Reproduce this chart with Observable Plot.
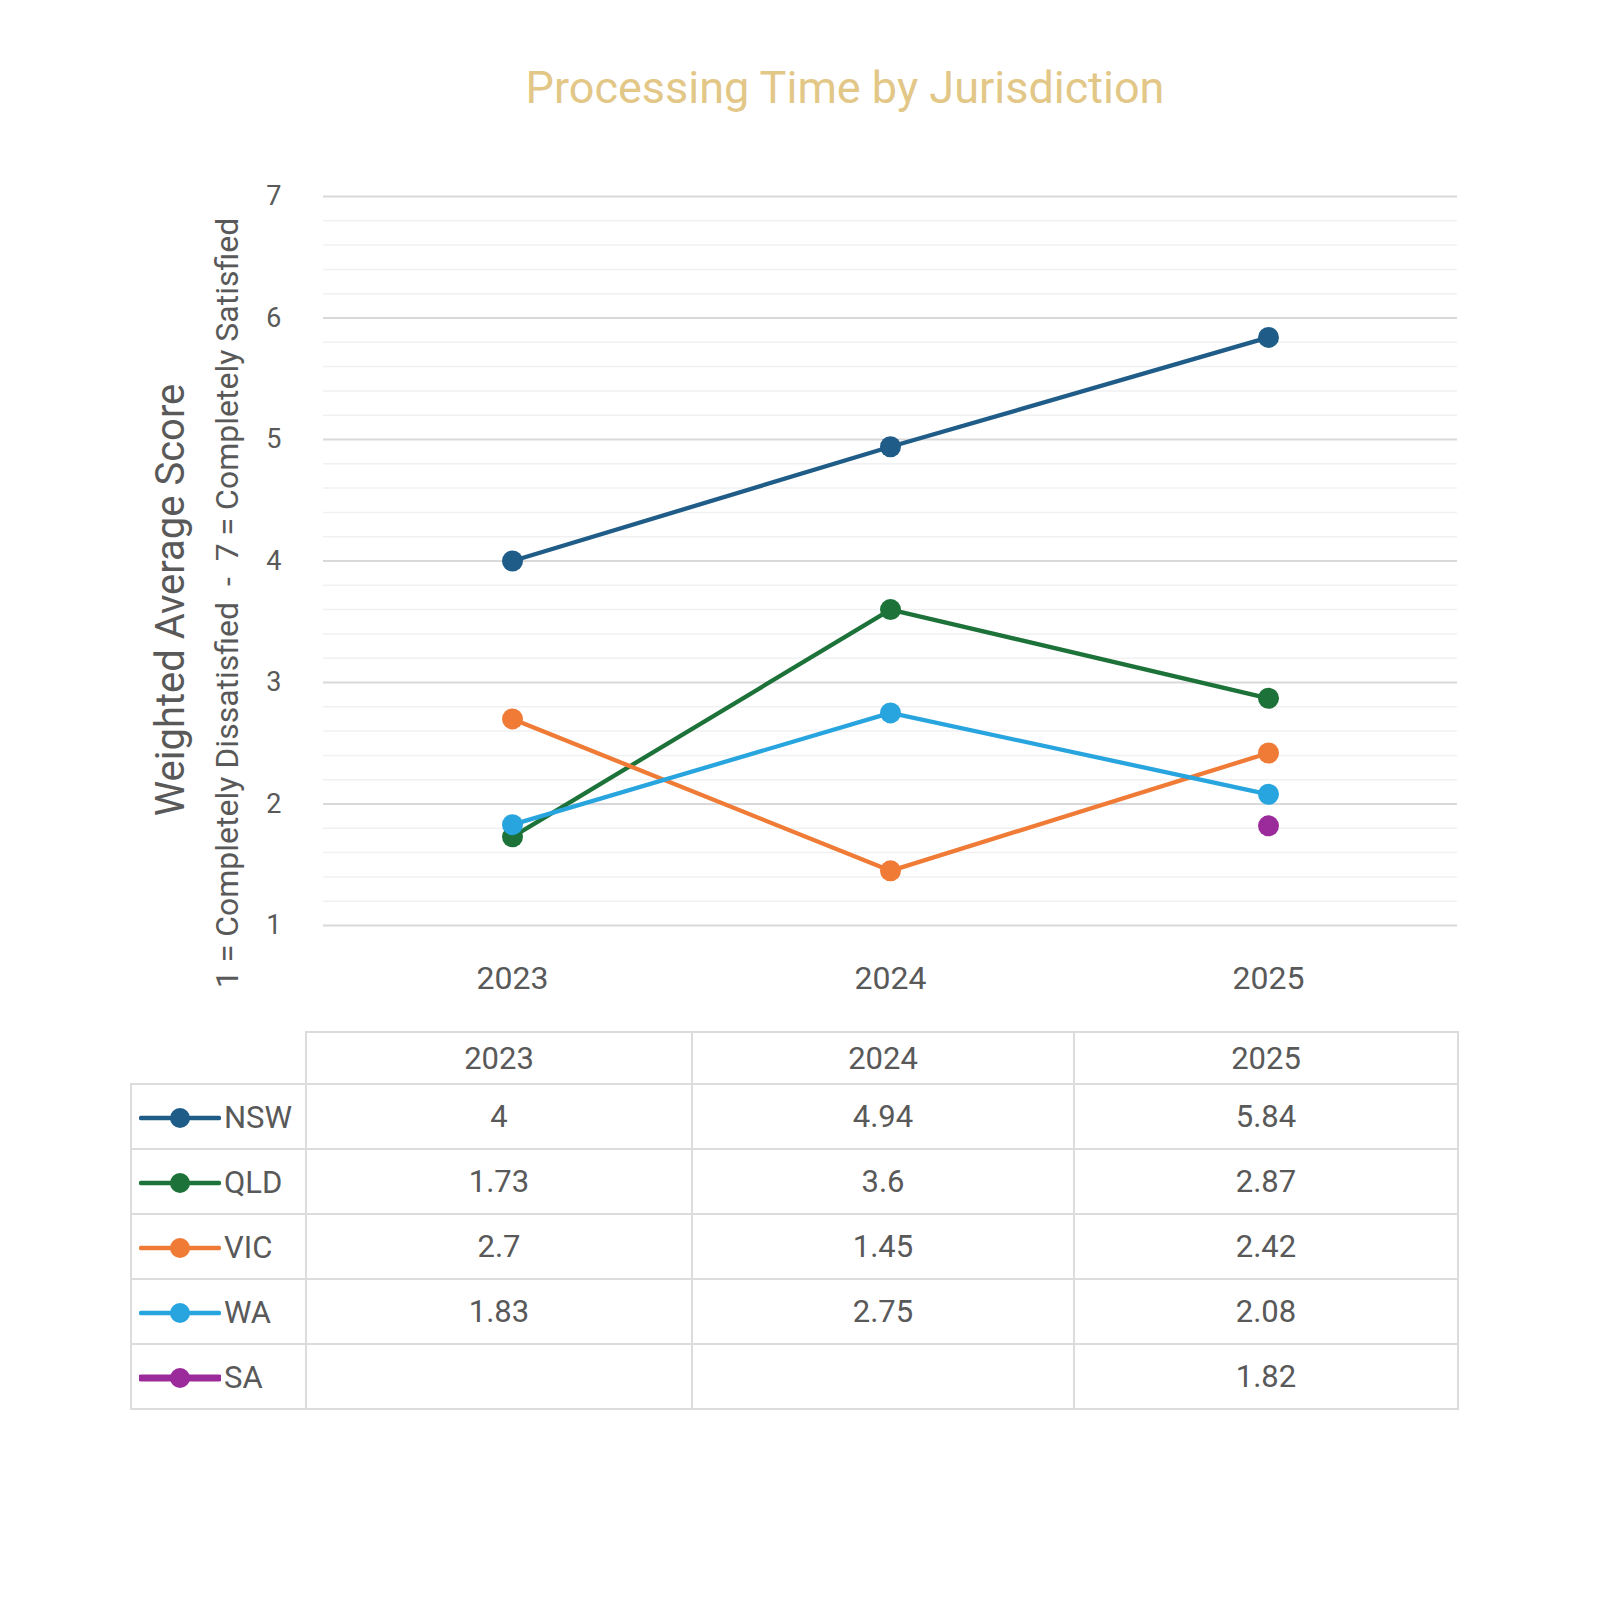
<!DOCTYPE html>
<html>
<head>
<meta charset="utf-8">
<script src="https://cdn.jsdelivr.net/npm/d3@7"></script>
<script src="https://cdn.jsdelivr.net/npm/@observablehq/plot@0.6"></script>
<style>
  body { margin: 0; background: #fff; font-family: Roboto, "Open Sans", sans-serif; }
  #page { position: relative; width: 1600px; height: 1600px; background: #fff; }
  #title { position: absolute; top: 62px; left: 90px; width: 1510px; text-align: center;
           font-size: 45px; line-height: 52px; font-weight: 400; color: #e2c787; }
  #chart { position: absolute; top: 150px; left: 0; }
  #tbl { position: absolute; top: 1031px; left: 130px; border-collapse: collapse;
         table-layout: fixed; color: #595959; font-size: 31px; }
  #tbl td, #tbl th { border: 2px solid #dcdcdc; text-align: center; padding: 0; font-weight: 400; }
  #tbl th { height: 50px; }
  #tbl td { height: 63px; }
  #tbl th.corner { border: none; }
  #tbl td.leg { text-align: left; padding-left: 7px; white-space: nowrap; }
  #tbl td.leg svg { vertical-align: middle; margin-right: 3px; }
  #tbl td.leg span { vertical-align: middle; }
</style>
</head>
<body>
<div id="page">
  <div id="title"></div>
  <div id="chart"></div>
  <table id="tbl"></table>
</div>
<script>
const titleText = "Processing Time by Jurisdiction";
const yTitle = "Weighted Average Score";
const ySubTitle = "1 = Completely Dissatisfied\u00a0 -\u00a0 7 = Completely Satisfied";
const years = ["2023", "2024", "2025"];
const series = ["NSW", "QLD", "VIC", "WA", "SA"];
const colors = ["#1f5d88", "#1c7238", "#ef7b36", "#28a5de", "#9b2b9b"];
const nsw = [4, 4.94, 5.84];
const qld = [1.73, 3.6, 2.87];
const vic = [2.7, 1.45, 2.42];
const wa  = [1.83, 2.75, 2.08];
const sa  = [null, null, 1.82];
const yMajor = [1, 2, 3, 4, 5, 6, 7];

const values = [nsw, qld, vic, wa, sa];
const yMinor = d3.range(1, 7.001, 0.2).map(v => +v.toFixed(1)).filter(v => !Number.isInteger(v));

const data = series.flatMap((s, i) =>
  years.map((yr, j) => ({series: s, year: yr, value: values[i][j]}))
).filter(d => d.value != null);

document.getElementById("title").textContent = titleText;

const chart = Plot.plot({
  width: 1600,
  height: 870,
  marginLeft: 323,
  marginRight: 143,
  marginTop: 46,
  marginBottom: 95,
  style: {fontFamily: "Roboto, 'Open Sans', sans-serif", color: "#595959", background: "transparent", overflow: "visible"},
  x: {type: "point", domain: years, padding: 0.5, label: null},
  y: {domain: [1, 7], label: null},
  color: {domain: series, range: colors},
  marks: [
    Plot.ruleY(yMinor, {stroke: "#f1f1f1", strokeWidth: 1.5}),
    Plot.ruleY(yMajor, {stroke: "#d9d9d9", strokeWidth: 2}),
    Plot.axisY({ticks: yMajor, tickFormat: d => String(d), tickSize: 0, tickPadding: 42, fontSize: 27, label: null}),
    Plot.axisX({tickSize: 0, tickPadding: 41, fontSize: 32, label: null}),
    Plot.line(data, {x: "year", y: "value", z: "series", stroke: "series", strokeWidth: 4.3}),
    Plot.dot(data, {x: "year", y: "value", fill: "series", r: 10.5}),
    Plot.text([yTitle], {text: d => d, frameAnchor: "left", textAnchor: "middle", dx: -152, dy: 39, rotate: -90, fontSize: 40, fill: "#595959"}),
    Plot.text([ySubTitle], {text: d => d, frameAnchor: "left", textAnchor: "middle", dx: -96, dy: 42, rotate: -90, fontSize: 32, fill: "#595959"})
  ]
});
document.getElementById("chart").appendChild(chart);

// Data table with legend keys
const colWidths = [175, 386, 382, 384];
const tbl = document.getElementById("tbl");
const cg = document.createElement("colgroup");
colWidths.forEach(w => { const c = document.createElement("col"); c.style.width = w + "px"; cg.appendChild(c); });
tbl.appendChild(cg);
const hr = document.createElement("tr");
const corner = document.createElement("th"); corner.className = "corner"; hr.appendChild(corner);
years.forEach(yr => { const th = document.createElement("th"); th.textContent = yr; hr.appendChild(th); });
tbl.appendChild(hr);
series.forEach((s, i) => {
  const tr = document.createElement("tr");
  const leg = document.createElement("td"); leg.className = "leg";
  const sw = i === series.length - 1 ? 7 : 4.5;
  leg.innerHTML = `<svg width="82" height="26"><line x1="2" x2="80" y1="13" y2="13" stroke="${colors[i]}" stroke-width="${sw}" stroke-linecap="round"/><circle cx="41" cy="13" r="10" fill="${colors[i]}"/></svg><span>${s}</span>`;
  tr.appendChild(leg);
  values[i].forEach(v => { const td = document.createElement("td"); td.textContent = v == null ? "" : String(v); tr.appendChild(td); });
  tbl.appendChild(tr);
});
</script>
</body>
</html>
